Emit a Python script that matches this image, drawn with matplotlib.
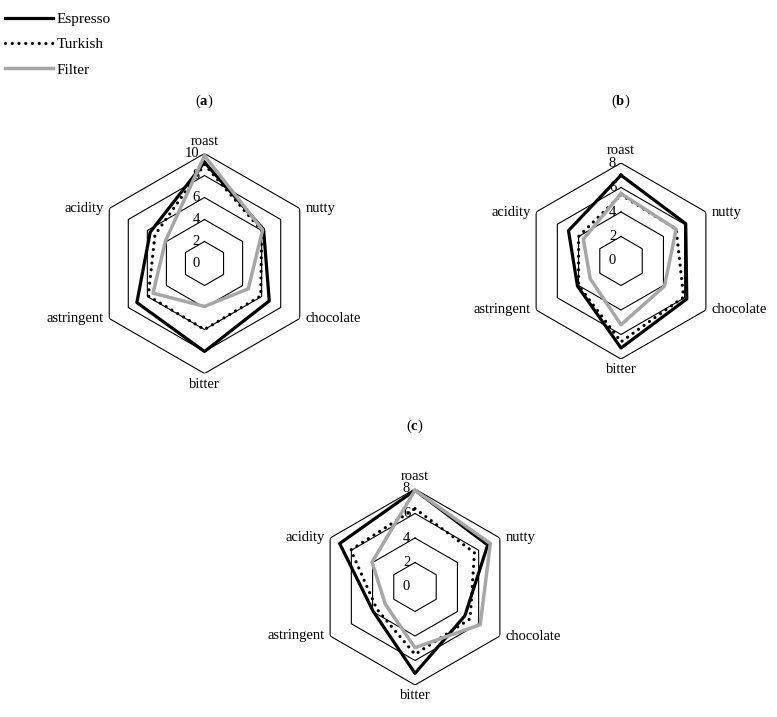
import numpy as np
import matplotlib
matplotlib.use("Agg")
import matplotlib.pyplot as plt

plt.rcParams["font.family"] = ["Liberation Serif", "DejaVu Serif"]
plt.rcParams["mathtext.fontset"] = "custom"
plt.rcParams["mathtext.rm"] = "Liberation Serif"
plt.rcParams["mathtext.bf"] = "Liberation Serif:bold"

categories = ["roast", "nutty", "chocolate", "bitter", "astringent", "acidity"]
series_names = ["Espresso", "Turkish", "Filter"]

# panel (a)
a_espresso = [9.2, 6.2, 6.8, 8.0, 7.1, 5.7]
a_turkish = [9.0, 6.0, 5.9, 6.0, 5.9, 5.2]
a_filter = [9.8, 6.1, 4.6, 3.9, 5.4, 4.1]
a_ticks = [0, 2, 4, 6, 8, 10]

# panel (b)
b_espresso = [7.0, 6.1, 6.2, 7.1, 4.1, 4.95]
b_turkish = [5.4, 5.2, 5.9, 6.6, 4.0, 4.0]
b_filter = [5.5, 5.2, 4.1, 5.2, 2.9, 3.55]
b_ticks = [0, 2, 4, 6, 8]

# panel (c)
c_espresso = [7.9, 6.85, 4.7, 7.05, 3.95, 7.1]
c_turkish = [6.4, 5.6, 5.2, 5.5, 3.6, 6.05]
c_filter = [7.9, 7.1, 6.15, 4.95, 2.8, 4.05]
c_ticks = [0, 2, 4, 6, 8]

W, H = 777, 717
styles = [
    dict(color="black", lw=2.3, ls="-"),
    dict(color="black", lw=2.3, ls=(0, (0.01, 2.1)), dash_capstyle="round"),
    dict(color="#a6a6a6", lw=2.5, ls="-"),
]

fig = plt.figure(figsize=(W / 100, H / 100), dpi=100)


def radar(cx, cy, r_px, ticks, series, panel, title_y):
    ax = fig.add_axes([(cx - r_px) / W, (H - cy - r_px) / H, 2 * r_px / W, 2 * r_px / H],
                      projection="polar")
    ax.set_theta_zero_location("N")
    ax.set_theta_direction(-1)
    ax.set_ylim(0, ticks[-1])
    ax.grid(False)
    ax.set_xticks([])
    ax.set_yticks([])
    ax.spines["polar"].set_visible(False)
    ax.patch.set_alpha(0)

    ang = np.linspace(0, 2 * np.pi, len(categories), endpoint=False)
    closed = np.append(ang, ang[0])
    for t in ticks[1:]:
        ax.plot(closed, [t] * len(closed), color="black", lw=0.8, zorder=1)
    for t in ticks:
        ax.annotate(str(t), (0, t), xytext=(-3.5, 0), textcoords="offset points",
                    ha="right", va="center", fontsize=10.5, zorder=2)

    lines = []
    for vals, name, st in zip(series, series_names, styles):
        ln, = ax.plot(closed, vals + vals[:1], label=name, zorder=3, clip_on=False, **st)
        lines.append(ln)

    # category labels outside the outer hexagon
    offs = [((0, 4), "center", "bottom"), ((4, 0), "left", "center"), ((4, 0), "left", "center"),
            ((0, -3), "center", "top"), ((-4, 0), "right", "center"), ((-4, 0), "right", "center")]
    for a, lab, (xy, ha, va) in zip(ang, categories, offs):
        ax.annotate(lab, (a, ticks[-1]), xytext=xy, textcoords="offset points",
                    ha=ha, va=va, fontsize=10.5, annotation_clip=False)

    fig.text(cx / W, 1 - title_y / H, r"($\mathbf{" + panel + "}$)",
             ha="center", va="center", fontsize=10.5)
    return lines


handles = radar(204.5, 263.5, 110, a_ticks, [a_espresso, a_turkish, a_filter], "a", 101)
radar(621, 261, 98, b_ticks, [b_espresso, b_turkish, b_filter], "b", 101)
radar(415, 587, 98, c_ticks, [c_espresso, c_turkish, c_filter], "c", 426)

fig.legend(handles=handles, loc="upper left", bbox_to_anchor=(0.0, 1 - 8 / H), frameon=False,
           fontsize=11, handlelength=3.15, handletextpad=0.25, labelspacing=0.75,
           borderaxespad=0.1, borderpad=0.2)

fig.savefig("out.png", dpi=100, facecolor="white")
